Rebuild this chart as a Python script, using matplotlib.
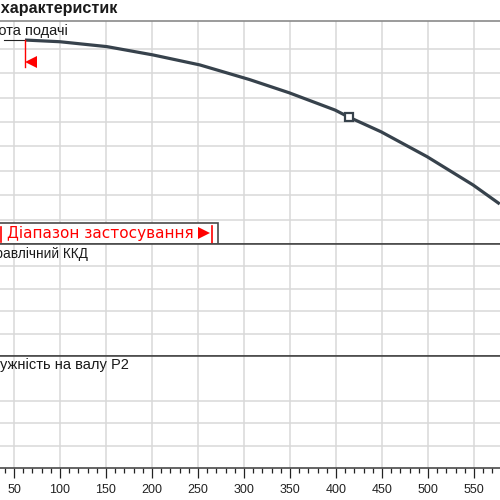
import matplotlib
matplotlib.use("Agg")
import matplotlib.pyplot as plt
from matplotlib.patches import Rectangle
from matplotlib.ticker import MultipleLocator

plt.rcParams['font.family'] = ['Liberation Sans', 'DejaVu Sans']

# pump curve (Q in m3/h, H in m)
flow = [62, 100, 151, 201, 252, 306, 349, 399, 414, 449, 499, 549, 578]
head = [41.8, 41.45, 40.45, 38.75, 36.7, 33.7, 31.0, 27.45, 26.0, 23.0, 17.9, 12.1, 8.2]
flow_thin = [39, 62]
head_thin = [41.8, 41.8]
duty_flow = [414]
duty_head = [26.0]
range_start = 62
range_box_end = 271.7

x_ticks = [50, 100, 150, 200, 250, 300, 350, 400, 450, 500, 550]
head_grid = [5, 10, 15, 20, 25, 30, 35, 40]
eff_grid = [20, 40, 60, 80]
power_grid = [1, 2, 3]

grid_col = '#d9d9d9'
border_col = '#4a4a4a'
curve_col = '#37424c'
red = '#ff0000'

fig = plt.figure(figsize=(5, 5), dpi=100)
ax1 = fig.add_axes([0, 0.512, 1, 0.446])
ax2 = fig.add_axes([0, 0.288, 1, 0.224], sharex=ax1)
ax3 = fig.add_axes([0, 0.064, 1, 0.224], sharex=ax1)

ax1.set_ylim(0, 45.7)
ax2.set_ylim(0, 100)
ax3.set_ylim(0, 5)
ax1.set_yticks(head_grid)
ax2.set_yticks(eff_grid)
ax3.set_yticks(power_grid)
ax1.set_xlim(34.8, 578.3)

for ax in (ax1, ax2, ax3):
    ax.set_xticks(x_ticks)
    ax.xaxis.set_minor_locator(MultipleLocator(10))
    ax.grid(True, which='major', color=grid_col, lw=1.1)
    ax.tick_params(axis='y', length=0, labelleft=False)
    for s in ('left', 'right'):
        ax.spines[s].set_visible(False)
    ax.spines['top'].set_color(border_col)
    ax.spines['bottom'].set_color(border_col)
    ax.spines['top'].set_linewidth(1.2)
    ax.spines['bottom'].set_linewidth(1.2)
    ax.set_axisbelow(True)

for ax in (ax1, ax2):
    ax.tick_params(axis='x', which='both', length=0, labelbottom=False)
ax1.spines['top'].set_color('#8a8a8a')

ax3.tick_params(axis='x', which='major', length=7.2, width=0.9, color='#222222',
                labelsize=9, labelcolor='#222222', pad=4)
ax3.tick_params(axis='x', which='minor', length=3.8, width=0.9, color='#222222')

# head curve
ax1.plot(flow_thin, head_thin, color='#222222', lw=0.8)
ax1.plot(flow, head, color=curve_col, lw=2.3, solid_capstyle='butt')
ax1.plot(duty_flow, duty_head, 's', ms=5.5, mfc='white', mec=curve_col, mew=1.6)

# start of application range
ax1.plot([range_start, range_start], [41.8, 36.3], color=red, lw=1.0)
ax1.plot([range_start + 6], [37.3], '<', color=red, ms=8, mew=0)

# range box
ax1.add_patch(Rectangle((0, 0), range_box_end, 4.36, facecolor='white',
                        edgecolor=border_col, lw=1.2, zorder=5, clip_on=True))
ax1.text(0.014, 1 - 233 / 500, 'Діапазон застосування', transform=fig.transFigure,
         color=red, fontsize=11, va='center', ha='left', zorder=6,
         family='DejaVu Sans')
ax1.plot([265.5, 265.5], [0.2, 3.7], color=red, lw=1.2, zorder=6)
ax1.plot([256.5], [2.3], '>', color=red, ms=9, mew=0, zorder=6)
fig.lines.append(plt.Line2D([0.002, 0.002], [1 - 242 / 500, 1 - 227 / 500],
                            transform=fig.transFigure, color=red, lw=1.2))

# panel labels (cut at the left edge like the picture)
fig.text(68 / 500, 1 - 34.5 / 500, 'Висота подачі', ha='right', va='baseline',
         fontsize=10.5, color='#1a1a1a')
fig.text(88 / 500, 1 - 258 / 500, 'Гідравлічний ККД', ha='right', va='baseline',
         fontsize=9.8, color='#1a1a1a')
fig.text(129 / 500, 1 - 369.5 / 500, 'Потужність на валу P2', ha='right', va='baseline',
         fontsize=10.5, color='#1a1a1a')
fig.text(117 / 500, 1 - 12.5 / 500, 'Графік характеристик', ha='right', va='baseline',
         fontsize=11.6, fontweight='bold', color='#1a1a1a')

fig.savefig('out.png', dpi=100)
